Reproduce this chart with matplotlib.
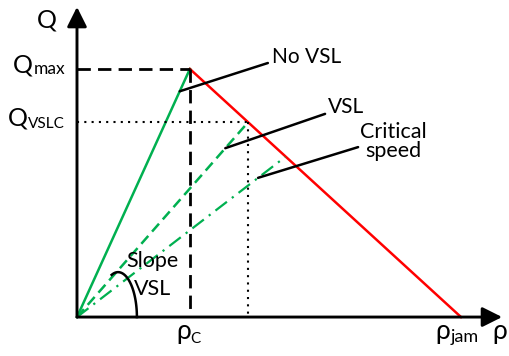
import matplotlib.pyplot as plt
import numpy as np

# fundamental diagram values (normalised: rho_jam = 1, Q_max = 1)
rho_c = 0.294
rho_jam = 1.0
q_max = 1.0
q_vslc = 0.786
rho_vsl = 0.446
rho_crit = 0.542
q_crit = 0.645

plt.rcParams['font.family'] = ['Lato', 'Open Sans', 'DejaVu Sans']

green = '#00b050'
red = '#ff0000'

fig = plt.figure(figsize=(5.09, 3.56), dpi=100)
ax = fig.add_axes([0, 0, 1, 1])
ax.set_xlim(-0.2005, 1.125)
ax.set_ylim(-0.157, 1.278)
ax.axis('off')

# branches
ax.plot([0, rho_c], [0, q_max], color=green, lw=1.8)
ax.plot([rho_c, rho_jam], [q_max, 0], color=red, lw=1.8)
ax.plot([0, rho_vsl], [0, q_vslc], color=green, lw=1.8, dashes=(4.2, 2.3))
ax.plot([0, rho_crit], [0, q_crit], color=green, lw=1.6, dashes=(6.5, 2.8, 1, 2.8))

# guide lines
ax.plot([0, rho_c], [q_max, q_max], color='k', lw=2, dashes=(4.8, 2.6))
ax.plot([rho_c, rho_c], [q_max, 0], color='k', lw=2, dashes=(4.8, 2.6))
ax.plot([0, rho_vsl], [q_vslc, q_vslc], color='k', lw=1.5, dashes=(1, 2.5))
ax.plot([rho_vsl, rho_vsl], [q_vslc, 0], color='k', lw=1.5, dashes=(1, 2.5))

# axes with arrow heads
arrow = dict(arrowstyle='-|>,head_length=12,head_width=6', mutation_scale=1,
             lw=2.1, color='k', shrinkA=0, shrinkB=0)
ax.annotate('', xy=(0, 1.25), xytext=(0, 0), arrowprops=arrow)
ax.annotate('', xy=(1.107, 0), xytext=(0, 0), arrowprops=arrow)


def leader(p0, p1):
    ax.annotate('', xy=p0, xytext=p1,
                arrowprops=dict(arrowstyle='-', lw=1.8, color='k', shrinkA=0, shrinkB=0))


leader((0.91 * rho_c, 0.91 * q_max), (0.497, 1.024))
leader((0.866 * rho_vsl, 0.866 * q_vslc), (0.646, 0.819))
leader((0.87 * rho_crit, 0.87 * q_crit), (0.732, 0.685))

# slope arc
t = np.radians(np.linspace(0, 110, 60))
ax.plot(0.107 + 0.049 * np.cos(t), 0.181 * np.sin(t), color='k', lw=1.8)

# labels
ax.text(-0.078, 1.169, 'Q', fontsize=18, ha='center', va='baseline')
ax.text(-0.167, 0.984, 'Q', fontsize=18, ha='left', va='baseline')
ax.text(-0.113, 0.980, 'max', fontsize=12.5, ha='left', va='baseline')
ax.text(-0.180, 0.774, 'Q', fontsize=18, ha='left', va='baseline')
ax.text(-0.129, 0.762, 'VSLC', fontsize=11, ha='left', va='baseline')
ax.text(0.260, -0.087, 'ρ', fontsize=19, ha='left', va='baseline')
ax.text(0.296, -0.105, 'C', fontsize=11, ha='left', va='baseline')
ax.text(0.934, -0.089, 'ρ', fontsize=19, ha='left', va='baseline')
ax.text(0.972, -0.101, 'jam', fontsize=13, ha='left', va='baseline')
ax.text(1.081, -0.089, 'ρ', fontsize=19, ha='left', va='baseline')

ax.text(0.508, 1.024, 'No VSL', fontsize=15, ha='left', va='baseline')
ax.text(0.654, 0.823, 'VSL', fontsize=15, ha='left', va='baseline')
ax.text(0.823, 0.722, 'Critical', fontsize=15.5, ha='center', va='baseline')
ax.text(0.823, 0.645, 'speed', fontsize=15.5, ha='center', va='baseline')
ax.text(0.197, 0.202, 'Slope', fontsize=15.5, ha='center', va='baseline')
ax.text(0.197, 0.089, 'VSL', fontsize=15.5, ha='center', va='baseline')

fig.savefig('out.png', dpi=100, facecolor='white')
